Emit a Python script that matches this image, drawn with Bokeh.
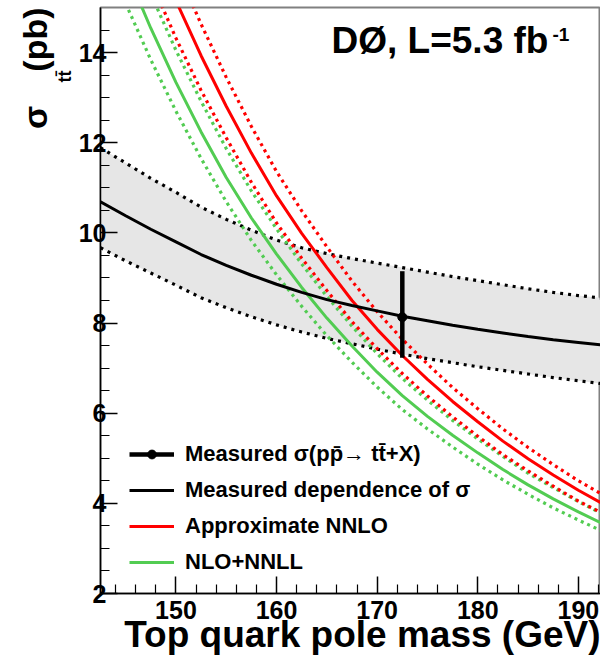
import math
from bokeh.plotting import figure
from bokeh.models import Range1d, FixedTicker, Label, Legend, LegendItem, Title
from bokeh.embed import file_html
from bokeh.resources import INLINE

# ---- data ----
mass_meas = [142.5, 145, 147.5, 150, 152.5, 155, 157.5, 160, 162.5, 165, 167.5,
             170, 172.5, 175, 177.5, 180, 182.5, 185, 187.5, 190, 192.5]
meas_central = [10.69, 10.38, 10.08, 9.80, 9.52, 9.28, 9.06, 8.86, 8.68, 8.52, 8.39,
                8.27, 8.15, 8.05, 7.95, 7.86, 7.78, 7.70, 7.63, 7.57, 7.51]
meas_upper = [11.89, 11.55, 11.21, 10.90, 10.57, 10.30, 10.06, 9.84, 9.67, 9.54, 9.43,
              9.33, 9.23, 9.13, 9.03, 8.94, 8.85, 8.76, 8.68, 8.61, 8.55]
meas_lower = [9.67, 9.38, 9.11, 8.84, 8.56, 8.34, 8.14, 7.96, 7.80, 7.66, 7.54,
              7.42, 7.31, 7.21, 7.12, 7.03, 6.95, 6.87, 6.79, 6.72, 6.65]

mass_th = [145, 147.5, 150, 152.5, 155, 157.5, 160, 162.5, 165, 167.5,
           170, 172.5, 175, 177.5, 180, 182.5, 185, 187.5, 190, 192.5]
nnlo = [17.9, 16.5, 15.15, 13.93, 12.81, 11.77, 10.82, 9.99, 9.23, 8.50,
        7.86, 7.28, 6.75, 6.26, 5.81, 5.38, 4.99, 4.63, 4.29, 3.98]
nnlo_up = [18.8, 17.3, 15.9, 14.63, 13.45, 12.36, 11.36, 10.49, 9.69, 8.93,
           8.25, 7.64, 7.09, 6.57, 6.10, 5.65, 5.24, 4.86, 4.50, 4.18]
nnlo_dn = [16.9, 15.6, 14.32, 13.16, 12.11, 11.12, 10.22, 9.44, 8.72, 8.03,
           7.43, 6.88, 6.38, 5.92, 5.49, 5.08, 4.72, 4.38, 4.05, 3.77]
nnll = [15.85, 14.54, 13.34, 12.24, 11.23, 10.33, 9.53, 8.79, 8.11, 7.49,
        6.91, 6.39, 5.93, 5.51, 5.12, 4.75, 4.41, 4.10, 3.81, 3.54]
nnll_up = [16.70, 15.30, 14.05, 12.92, 11.87, 10.93, 10.09, 9.31, 8.59, 7.93,
           7.32, 6.77, 6.29, 5.84, 5.43, 5.04, 4.67, 4.35, 4.04, 3.75]
nnll_dn = [15.09, 13.84, 12.70, 11.65, 10.69, 9.83, 9.07, 8.37, 7.72, 7.13,
           6.58, 6.08, 5.65, 5.25, 4.87, 4.52, 4.20, 3.90, 3.63, 3.37]

point_mass = [172.5]
point_xsec = [8.13]
point_lo = [7.23]
point_hi = [9.15]

x_ticks = [150, 160, 170, 180, 190]
x_minor = [144, 146, 148, 152, 154, 156, 158, 162, 164, 166, 168,
           172, 174, 176, 178, 182, 184, 186, 188, 192]
y_ticks = [2, 4, 6, 8, 10, 12, 14]
y_minor = [2.5, 3, 3.5, 4.5, 5, 5.5, 6.5, 7, 7.5, 8.5, 9, 9.5,
           10.5, 11, 11.5, 12.5, 13, 13.5, 14.5]

legend_labels = ["Measured \u03c3(pp\u0304\u2192 tt\u0304+X)",
                 "Measured dependence of \u03c3",
                 "Approximate NNLO",
                 "NLO+NNLL"]
x_title = "Top quark pole mass (GeV)"
y_title = "\u03c3\u2003(pb)"
y_sub = "tt\u0304"
exp_text = "D\u00d8, L=5.3 fb"
exp_sup = "-1"

RED = "#ff0000"
GREEN = "#52cc52"
FONT = "Liberation Sans"

p = figure(width=600, height=655, min_border_left=100, min_border_right=0,
           min_border_top=7, min_border_bottom=62,
           x_range=Range1d(142.5, 192.2), y_range=Range1d(2, 15),
           output_backend="svg", toolbar_location=None)
p.grid.visible = False
p.outline_line_color = "#808080"
p.outline_line_width = 2
p.background_fill_color = "white"

for ax, ticks, minor in ((p.xaxis[0], x_ticks, x_minor), (p.yaxis[0], y_ticks, y_minor)):
    ax.ticker = FixedTicker(ticks=ticks, minor_ticks=minor)
    ax.major_tick_in = 17
    ax.major_tick_out = 0
    ax.minor_tick_in = 9
    ax.minor_tick_out = 0
    ax.axis_line_color = "black"
    ax.axis_line_width = 1.5
    ax.major_tick_line_width = 1.5
    ax.minor_tick_line_width = 1.2
    ax.major_label_text_font = FONT
    ax.major_label_text_font_style = "bold"
    ax.major_label_text_font_size = "25px"
    ax.major_label_text_color = "black"
p.xaxis.major_label_standoff = 7
p.yaxis.major_label_standoff = -6

DOT_B = "3 5"
DOT_C = "3 4"

# band
p.varea(x=mass_meas, y1=meas_lower, y2=meas_upper, fill_color="#e6e6e6")
p.line(mass_meas, meas_upper, line_color="black", line_width=3.2, line_dash=DOT_B)
p.line(mass_meas, meas_lower, line_color="black", line_width=3.2, line_dash=DOT_B)

# theory
p.line(mass_th, nnll_dn, line_color=GREEN, line_width=3.2, line_dash=DOT_C)
p.line(mass_th, nnll_up, line_color=GREEN, line_width=3.2, line_dash=DOT_C)
r_green = p.line(mass_th, nnll, line_color=GREEN, line_width=3)
p.line(mass_th, nnlo_dn, line_color=RED, line_width=3.2, line_dash=DOT_C)
p.line(mass_th, nnlo_up, line_color=RED, line_width=3.2, line_dash=DOT_C)
r_red = p.line(mass_th, nnlo, line_color=RED, line_width=3)

# measured dependence
r_black = p.line(mass_meas, meas_central, line_color="black", line_width=3)

# measured point
r_seg = p.segment(x0=point_mass, y0=point_lo, x1=point_mass, y1=point_hi,
                  line_color="black", line_width=4.5)
r_pt = p.scatter(point_mass, point_xsec, size=9, marker="circle",
                 fill_color="black", line_color="black")

legend = Legend(items=[LegendItem(label=legend_labels[0], renderers=[r_seg, r_pt]),
                       LegendItem(label=legend_labels[1], renderers=[r_black]),
                       LegendItem(label=legend_labels[2], renderers=[r_red]),
                       LegendItem(label=legend_labels[3], renderers=[r_green])],
                location=(29, 18), orientation="vertical",
                glyph_width=45, glyph_height=22, label_height=22,
                label_standoff=11, spacing=10, padding=0, margin=0,
                border_line_alpha=0, background_fill_alpha=0,
                label_text_font=FONT, label_text_font_style="bold",
                label_text_font_size="22px", label_text_color="black")
p.add_layout(legend, "center")

# experiment label
p.add_layout(Label(x=231, y=553, x_units="screen", y_units="screen",
                   text=exp_text, text_font=FONT, text_font_style="bold",
                   text_font_size="37px", text_color="black",
                   text_baseline="alphabetic", text_align="left"))
p.add_layout(Label(x=452, y=559, x_units="screen", y_units="screen",
                   text=exp_sup, text_font=FONT, text_font_style="bold",
                   text_font_size="19px", text_color="black",
                   text_baseline="alphabetic", text_align="left"))

# x-axis title, right-aligned at the end of the axis
p.add_layout(Title(text=x_title, align="right", offset=0, standoff=-19,
                   text_font=FONT, text_font_style="bold", text_font_size="37px",
                   text_color="black"), "below")

# y-axis title (subscript column nearer the axis, main text outside)
p.add_layout(Title(text=y_sub, align="right", offset=63, standoff=2,
                   text_font=FONT, text_font_style="bold", text_font_size="18px",
                   text_color="black"), "left")
p.add_layout(Title(text=y_title, align="right", offset=0, standoff=-4,
                   text_font=FONT, text_font_style="bold", text_font_size="34px",
                   text_color="black"), "left")

open("out.html", "w").write(file_html(p, INLINE))
